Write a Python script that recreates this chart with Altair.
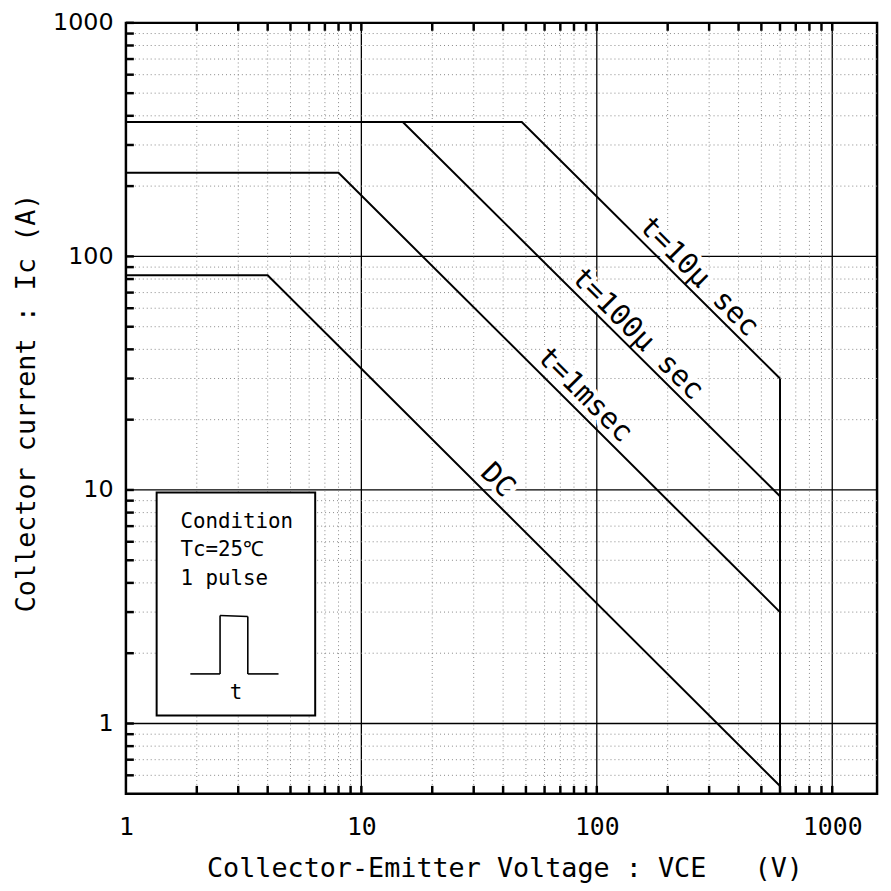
import altair as alt
import pandas as pd

# ---------------- data ----------------
VCE_10US = [1, 48, 600]
IC_10US = [376, 376, 30]
VCE_100US = [1, 15, 600]
IC_100US = [376, 376, 9.4]
VCE_1MS = [1, 8, 600]
IC_1MS = [228, 228, 3.0]
VCE_DC = [1, 4, 600]
IC_DC = [83, 83, 0.54]
VCE_LIMIT = [600, 600]
IC_LIMIT = [0.54, 30]

X_TICK_LABELS = [1, 10, 100, 1000]
Y_TICK_LABELS = [1, 10, 100, 1000]
X_MAJOR = [10, 100, 1000]
Y_MAJOR = [1, 10, 100]
X_MINOR = [2, 3, 4, 5, 6, 7, 8, 9, 20, 30, 40, 50, 60, 70, 80, 90,
           200, 300, 400, 500, 600, 700, 800, 900]
Y_MINOR = [0.6, 0.7, 0.8, 0.9, 2, 3, 4, 5, 6, 7, 8, 9, 20, 30, 40, 50, 60, 70, 80, 90,
           200, 300, 400, 500, 600, 700, 800, 900]

CURVE_LABELS = ["t=10μ sec", "t=100μ sec", "t=1msec", "DC"]
LABEL_VCE = [272, 149, 89, 38]
LABEL_IC = [82, 46.6, 25.6, 11.0]

NB = "\u00a0"
X_TITLE = "Collector-Emitter" + NB + "Voltage" + NB + ":" + NB + "VCE" + NB * 3 + "(V)"
Y_TITLE = "Collector current : Ic (A)"

# ---------------- layout ----------------
W, H = 758, 778
MONO = "DejaVu Sans Mono"
SANS = "DejaVu Sans"

xscale = alt.Scale(type="log", domain=[1, 1550], nice=False)
yscale = alt.Scale(type="log", domain=[0.5, 1000], nice=False)

X_AXIS = alt.Axis(values=X_TICK_LABELS, format="d", grid=False, ticks=False,
                  tickSize=0, domain=False, labelFlush=False, labelOverlap=False,
                  labelFont=MONO, labelFontSize=25, labelColor="black",
                  labelPadding=21,
                  title=X_TITLE,
                  titleFont=MONO, titleFontSize=27, titleFontWeight="normal",
                  titleColor="black", titleX=W / 2 + 3, titleY=83,
                  titleAlign="center", titleBaseline="alphabetic")
Y_AXIS = alt.Axis(values=Y_TICK_LABELS, format="d", grid=False, ticks=False,
                  tickSize=0, domain=False, labelFlush=False, labelOverlap=False,
                  labelFont=SANS, labelFontSize=24, labelColor="black",
                  labelPadding=13,
                  title=Y_TITLE,
                  titleFont=MONO, titleFontSize=27, titleFontWeight="normal",
                  titleColor="black", titleX=-92, titleY=383, titleAngle=-90,
                  titleAlign="center", titleBaseline="alphabetic")


def X(field):
    return alt.X(field, scale=xscale, axis=X_AXIS)


def Y(field):
    return alt.Y(field, scale=yscale, axis=Y_AXIS)


rows = []
for name, vs, cs in [("10us", VCE_10US, IC_10US), ("100us", VCE_100US, IC_100US),
                     ("1ms", VCE_1MS, IC_1MS), ("DC", VCE_DC, IC_DC),
                     ("limit", VCE_LIMIT, IC_LIMIT)]:
    for i, (v, c) in enumerate(zip(vs, cs)):
        rows.append({"series": name, "order": i, "vce": v, "ic": c})
curves = pd.DataFrame(rows)

xminor = pd.DataFrame({"v": X_MINOR})
yminor = pd.DataFrame({"v": Y_MINOR})
xmajor = pd.DataFrame({"v": X_MAJOR})
ymajor = pd.DataFrame({"v": Y_MAJOR})
xticks = pd.DataFrame({"v": X_MINOR + X_MAJOR})
yticks = pd.DataFrame({"v": Y_MINOR + Y_MAJOR + [1000]})
labels = pd.DataFrame({"text": CURVE_LABELS, "vce": LABEL_VCE, "ic": LABEL_IC})
one = pd.DataFrame({"a": [0]})

xmajor_layer = alt.Chart(xmajor).mark_rule(color="black", strokeWidth=1.3).encode(x=X("v:Q"))
ymajor_layer = alt.Chart(ymajor).mark_rule(color="black", strokeWidth=1.3).encode(y=Y("v:Q"))

xminor_layer = alt.Chart(xminor).mark_rule(color="#888888", strokeWidth=1,
                                           strokeDash=[1, 3]).encode(x=X("v:Q"))
yminor_layer = alt.Chart(yminor).mark_rule(color="#888888", strokeWidth=1,
                                           strokeDash=[1, 3]).encode(y=Y("v:Q"))

halo = alt.Chart(labels).mark_text(font=MONO, fontSize=29, angle=45, align="center",
                                   baseline="middle", stroke="white", strokeWidth=9,
                                   fill="white").encode(
    x=X("vce:Q"), y=Y("ic:Q"), text="text:N")

curve_layer = alt.Chart(curves).mark_line(color="black", strokeWidth=2).encode(
    x=X("vce:Q"), y=Y("ic:Q"), detail="series:N", order="order:Q")

text_layer = alt.Chart(labels).mark_text(font=MONO, fontSize=29, angle=45, align="center",
                                         baseline="middle", color="black").encode(
    x=X("vce:Q"), y=Y("ic:Q"), text="text:N")

# inward tick marks
left_ticks = alt.Chart(yticks).mark_rule(color="black", strokeWidth=2.5).encode(
    y=Y("v:Q"), x=alt.value(0), x2=alt.value(8))
bottom_ticks = alt.Chart(xticks).mark_rule(color="black", strokeWidth=2.5).encode(
    x=X("v:Q"), y=alt.value(H), y2=alt.value(H - 8))
top_ticks = alt.Chart(xticks).mark_rule(color="black", strokeWidth=2.5).encode(
    x=X("v:Q"), y=alt.value(0), y2=alt.value(8))

# condition box
box = alt.Chart(one).mark_rect(fill="white", stroke="black", strokeWidth=2).encode(
    x=alt.value(31), x2=alt.value(191), y=alt.value(474), y2=alt.value(699))


def box_text(txt, x, y, size=21, align="left"):
    return alt.Chart(one).mark_text(font=MONO, fontSize=size, align=align,
                                    baseline="alphabetic", color="black").encode(
        x=alt.value(x), y=alt.value(y), text=alt.value(txt))


def seg(x1, y1, x2, y2):
    return alt.Chart(one).mark_rule(color="black", strokeWidth=1.6).encode(
        x=alt.value(x1), y=alt.value(y1), x2=alt.value(x2), y2=alt.value(y2))


pulse = [seg(65, 657, 95, 657), seg(95, 657, 95, 598), seg(95, 598, 123, 599),
         seg(123, 599, 123, 657), seg(123, 657, 154, 657)]

chart = alt.layer(
    xmajor_layer, ymajor_layer, xminor_layer, yminor_layer, halo, curve_layer, text_layer,
    box, box_text("Condition", 55, 510), box_text("Tc=25℃", 55, 538),
    box_text("1 pulse", 55, 567), *pulse, box_text("t", 111, 682, size=21, align="center"),
    left_ticks, bottom_ticks, top_ticks,
).properties(
    width=W, height=H,
    autosize=alt.AutoSizeParams(type="none"),
    padding={"left": 119, "top": 11, "right": 6, "bottom": 86},
    background="white",
).configure_view(stroke="black", strokeWidth=2.5)

chart.save("out.html", embed_options={"renderer": "svg", "actions": False})
